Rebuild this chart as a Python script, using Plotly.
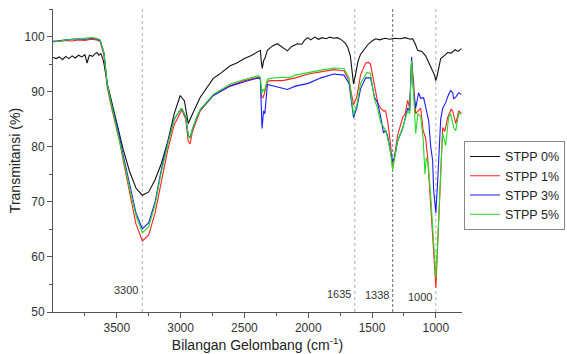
import plotly.graph_objects as go

# ---------------- data ----------------
wn_black = [4000, 3975, 3950, 3925, 3900, 3875, 3850, 3825, 3800, 3775, 3750, 3733, 3715, 3690, 3670, 3655,
            3640, 3625, 3610, 3600, 3575, 3550, 3500, 3450, 3400, 3350, 3300, 3250, 3200, 3150, 3100,
            3050, 3003, 2970, 2940, 2920, 2900, 2846, 2744, 2700, 2650, 2611, 2560, 2500, 2450, 2399,
            2375, 2368, 2360, 2350, 2340, 2320, 2280, 2242, 2200, 2163, 2130, 2085, 2050, 2030, 2006,
            1980, 1950, 1920, 1890, 1860, 1830, 1800, 1771, 1740, 1710, 1690, 1670, 1655, 1645, 1630,
            1610, 1590, 1566, 1530, 1500, 1472, 1440, 1400, 1360, 1320, 1280, 1240, 1200, 1182, 1160,
            1143, 1110, 1080, 1056, 1030, 1010, 1001, 990, 980, 962, 940, 907, 880, 850, 825, 800]
t_black = [96.2, 96.0, 96.3, 95.8, 96.4, 96.0, 96.5, 96.1, 96.6, 96.3, 96.7, 95.2, 96.6, 96.4, 96.9, 97.1,
           96.6, 96.9, 96.0, 95.0, 91.5, 89.0, 84.0, 79.5, 75.5, 72.5, 71.2, 71.8, 74.0, 77.0, 81.0,
           86.0, 89.3, 88.3, 84.2, 85.3, 86.3, 89.0, 92.4, 93.1, 94.0, 94.7, 95.2, 96.0, 96.5, 97.1,
           97.5, 95.5, 94.2, 95.6, 96.0, 97.5, 98.3, 98.7, 98.0, 97.4, 98.2, 98.7, 98.6, 99.3, 99.8,
           99.4, 99.9, 99.5, 99.8, 99.6, 99.9, 99.7, 99.8, 99.4, 98.8, 98.0, 96.5, 94.0, 91.4, 93.0,
           95.5, 96.8, 97.5, 98.6, 99.2, 99.6, 99.4, 99.7, 99.5, 99.7, 99.6, 99.8, 99.5, 99.6, 98.6,
           97.5, 97.3, 96.5, 95.3, 94.0, 93.0, 92.0, 92.8, 94.0, 96.0, 96.4, 97.1, 97.0, 97.6, 97.3, 97.8]

wn_red = [4000, 3950, 3900, 3850, 3800, 3750, 3700, 3660, 3630, 3600, 3576, 3550, 3500, 3474, 3450, 3400,
          3350, 3300, 3250, 3200, 3150, 3100, 3050, 3000, 2990, 2960, 2940, 2925, 2910, 2880, 2846,
          2744, 2611, 2500, 2391, 2375, 2365, 2355, 2345, 2320, 2300, 2200, 2100, 2000, 1900, 1800,
          1720, 1680, 1645, 1620, 1590, 1550, 1527, 1512, 1480, 1455, 1433, 1410, 1394, 1378, 1355,
          1339, 1325, 1300, 1260, 1240, 1221, 1205, 1190, 1175, 1158, 1140, 1119, 1100, 1080, 1064,
          1040, 1020, 1000, 985, 970, 955, 946, 930, 907, 880, 868, 844, 821, 800]
t_red = [99.2, 99.1, 99.3, 99.2, 99.4, 99.3, 99.5, 99.4, 99.1, 96.5, 91.0, 88.0, 83.0, 80.5, 77.5, 71.5,
         66.0, 62.9, 64.0, 68.0, 74.0, 79.5, 84.0, 86.5, 86.7, 85.0, 81.0, 80.5, 82.5, 84.5, 86.5,
         89.3, 91.1, 92.0, 92.6, 92.5, 89.0, 88.9, 89.5, 91.8, 92.0, 92.0, 92.5, 93.2, 93.6, 94.0,
         93.8, 92.0, 87.6, 89.0, 93.0, 95.2, 95.3, 95.0, 91.0, 88.0, 87.0, 86.5, 86.5, 84.7, 80.5,
         76.2, 78.0, 82.0, 85.3, 86.0, 88.4, 87.0, 95.6, 92.0, 86.0, 86.5, 87.0, 83.0, 81.5, 78.0,
         70.0, 62.0, 54.4, 62.0, 72.0, 80.0, 83.5, 82.8, 85.3, 86.8, 86.5, 84.2, 86.5, 86.0]

wn_blue = [4000, 3950, 3900, 3850, 3800, 3750, 3700, 3660, 3630, 3600, 3576, 3550, 3500, 3450, 3400, 3350,
           3300, 3250, 3200, 3150, 3100, 3050, 3000, 2990, 2960, 2940, 2925, 2910, 2880, 2846, 2744,
           2611, 2500, 2391, 2375, 2362, 2350, 2340, 2320, 2300, 2200, 2163, 2100, 2000, 1900, 1800,
           1720, 1680, 1645, 1620, 1590, 1550, 1527, 1512, 1480, 1457, 1433, 1410, 1394, 1378, 1355,
           1339, 1325, 1300, 1260, 1221, 1205, 1190, 1175, 1158, 1135, 1119, 1096, 1080, 1056, 1040,
           1025, 1017, 1000, 985, 970, 962, 946, 923, 900, 884, 868, 860, 844, 821, 800]
t_blue = [99.1, 99.3, 99.4, 99.5, 99.6, 99.5, 99.7, 99.6, 99.3, 97.0, 91.5, 88.5, 84.0, 78.5, 73.0, 68.0,
          65.1, 66.2, 70.0, 76.0, 80.8, 85.0, 86.8, 86.9, 85.5, 82.0, 81.7, 83.0, 85.0, 86.7, 89.3,
          91.0, 91.8, 92.5, 92.2, 83.3, 86.5, 86.0, 91.3, 91.2, 90.7, 90.4, 91.0, 91.5, 92.5, 93.2,
          93.0, 91.5, 85.3, 87.0, 90.5, 92.5, 92.5, 92.5, 89.0, 88.0, 85.5, 82.5, 83.0, 82.0, 79.0,
          77.3, 78.0, 81.0, 83.3, 87.0, 86.5, 96.3, 90.0, 87.0, 89.8, 88.8, 88.9, 87.0, 84.7, 80.0,
          77.5, 72.0, 68.0, 74.0, 81.0, 85.0, 87.0, 88.0, 89.5, 90.2, 89.8, 88.7, 89.0, 89.8, 89.5]

wn_green = [4000, 3950, 3900, 3850, 3800, 3750, 3700, 3660, 3630, 3600, 3576, 3550, 3500, 3450, 3400, 3350,
            3300, 3250, 3200, 3150, 3100, 3050, 3000, 2990, 2960, 2940, 2925, 2910, 2880, 2846, 2744,
            2611, 2500, 2391, 2375, 2365, 2355, 2345, 2320, 2300, 2200, 2150, 2100, 2000, 1900, 1800,
            1720, 1680, 1645, 1620, 1590, 1540, 1512, 1480, 1457, 1433, 1410, 1394, 1378, 1355, 1339,
            1325, 1300, 1260, 1221, 1205, 1190, 1175, 1158, 1140, 1119, 1100, 1085, 1075, 1060, 1040,
            1020, 1000, 985, 970, 955, 946, 923, 900, 884, 860, 844, 821, 800]
t_green = [99.0, 99.2, 99.4, 99.5, 99.6, 99.7, 99.8, 99.7, 99.4, 97.0, 91.5, 88.5, 83.5, 78.0, 72.5, 67.5,
           64.4, 65.5, 69.5, 75.5, 80.5, 85.0, 86.8, 86.9, 85.5, 82.0, 81.5, 83.0, 85.0, 86.8, 89.5,
           91.4, 92.2, 92.9, 92.6, 89.6, 90.5, 90.0, 92.2, 92.4, 92.6, 92.5, 93.0, 93.5, 93.9, 94.3,
           94.2, 92.5, 85.8, 87.5, 91.5, 93.5, 93.3, 88.5, 87.0, 84.5, 83.5, 83.0, 81.5, 79.0, 75.8,
           77.5, 81.0, 83.5, 86.5, 86.0, 95.6, 90.0, 82.4, 86.0, 85.5, 81.6, 75.0, 78.0, 77.0, 71.0,
           63.0, 56.2, 63.0, 72.0, 79.0, 82.4, 80.2, 85.3, 86.0, 83.5, 82.9, 86.0, 86.0]

series_names = ["STPP 0%", "STPP 1%", "STPP 3%", "STPP 5%"]
series_colors = ["#111111", "#ff2020", "#1a1aff", "#22dd22"]

marker_wn = [3300, 1635, 1338, 1000]
marker_labels = ["3300", "1635", "1338", "1000"]
marker_label_y = [54.0, 53.3, 53.1, 52.7]

x_tickvals = [3500, 3000, 2500, 2000, 1500, 1000]
x_minor = [3750, 3250, 2750, 2250, 1750, 1250]
y_tickvals = [50, 60, 70, 80, 90, 100]
y_minor = [55, 65, 75, 85, 95, 105]

# ---------------- figure ----------------
fig = go.Figure()
data = [(wn_black, t_black), (wn_red, t_red), (wn_blue, t_blue), (wn_green, t_green)]
for (xs, ys), name, col in zip(data, series_names, series_colors):
    fig.add_trace(go.Scatter(x=xs, y=ys, mode="lines", name=name,
                             line=dict(color=col, width=1.1)))

for wn, lab, ly in zip(marker_wn, marker_labels, marker_label_y):
    dash_col = "#444444" if wn == 1338 else "#999999"
    dash_style = "3px,2px" if wn == 1338 else "dot"
    fig.add_shape(type="line", x0=wn, x1=wn, y0=0, y1=1, xref="x", yref="paper",
                  line=dict(color=dash_col, width=0.8, dash=dash_style), layer="below")
    fig.add_annotation(x=wn, y=ly, text=lab, showarrow=False, xanchor="right",
                       xshift=-2, font=dict(size=11, color="#333333"))

axis_font = dict(family="Liberation Sans, Arial, sans-serif", size=12, color="#333333")
fig.update_layout(
    width=567, height=354,
    margin=dict(l=53, r=105, t=9, b=42, autoexpand=False),
    paper_bgcolor="white", plot_bgcolor="white",
    font=dict(family="Liberation Sans, Arial, sans-serif", color="#333333"),
    showlegend=True,
    legend=dict(x=1.005, y=0.565, xanchor="left", yanchor="top",
                bordercolor="#888888", borderwidth=1, bgcolor="white",
                font=dict(size=12.5, color="#222222"), tracegroupgap=0,
                itemwidth=30),
    xaxis=dict(range=[4000, 795], showgrid=False, zeroline=False,
               showline=True, linecolor="#555555", linewidth=1,
               ticks="outside", ticklen=5, tickcolor="#555555",
               tickvals=x_tickvals, tickfont=axis_font,
               minor=dict(tickvals=x_minor, ticks="outside", ticklen=3, tickcolor="#555555"),
               title=dict(text="Bilangan Gelombang (cm<sup>-1</sup>)",
                          font=dict(size=14, color="#222222"), standoff=4)),
    yaxis=dict(range=[50, 105], showgrid=False, zeroline=False,
               showline=True, linecolor="#555555", linewidth=1,
               ticks="outside", ticklen=5, tickcolor="#555555",
               tickvals=y_tickvals, tickfont=axis_font,
               minor=dict(tickvals=y_minor, ticks="outside", ticklen=3, tickcolor="#555555"),
               title=dict(text="Transmitansi (%)", font=dict(size=14, color="#222222"), standoff=0)),
)

fig.write_html("out.html")
